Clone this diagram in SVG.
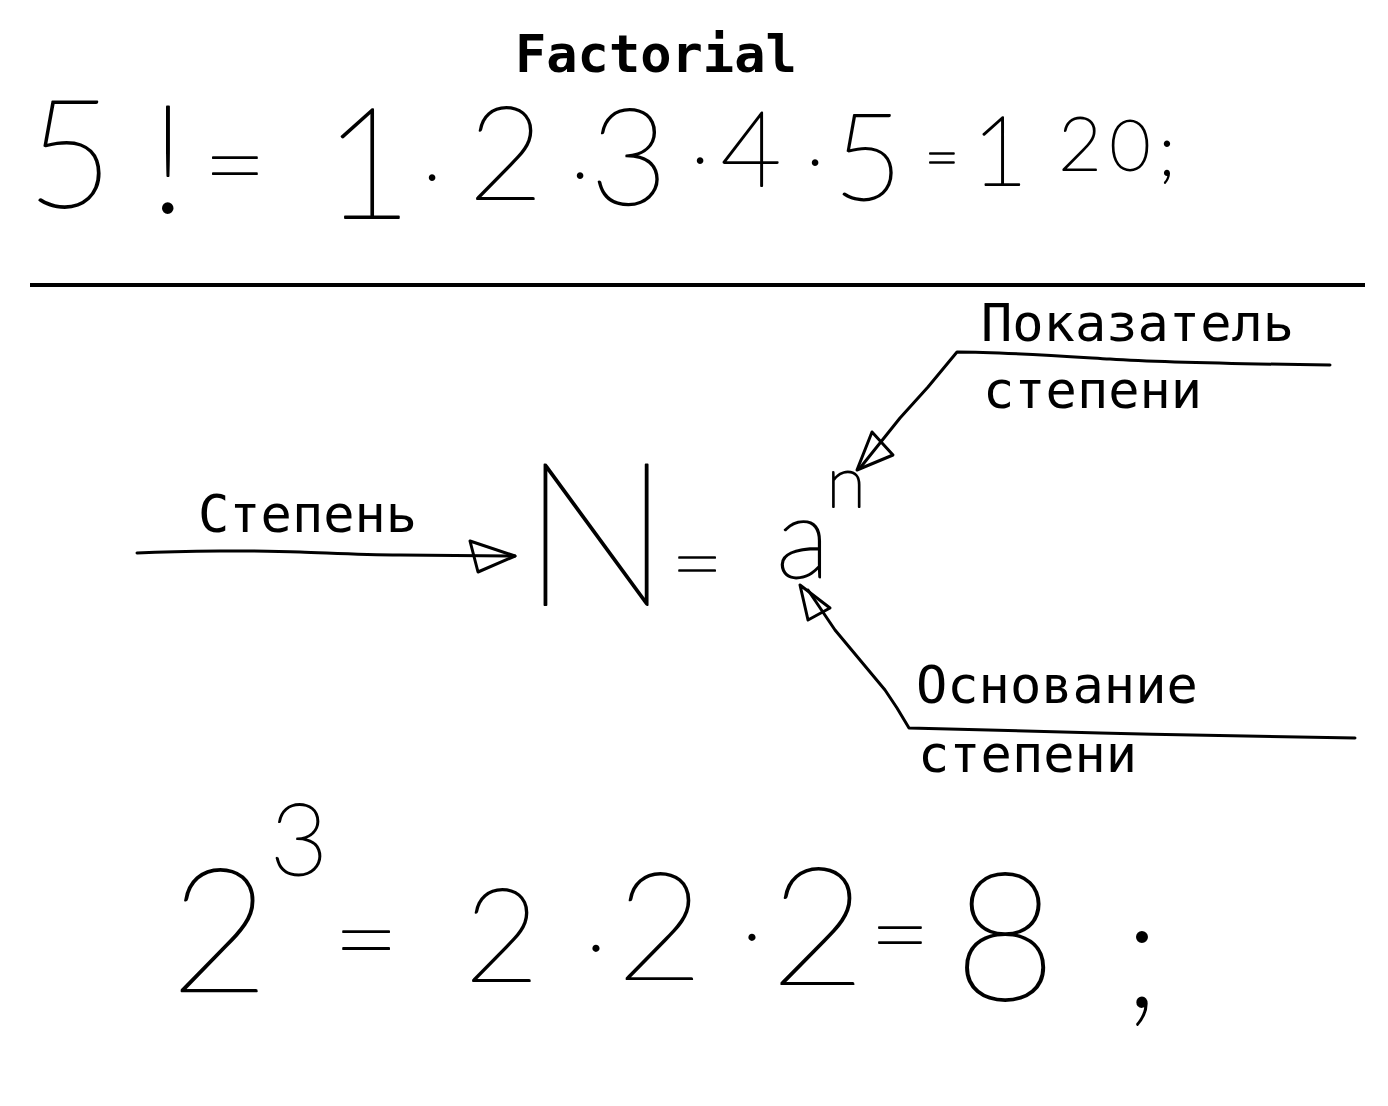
<svg xmlns="http://www.w3.org/2000/svg" width="1388" height="1106" viewBox="0 0 1388 1106">
<style>
.lbl{font-family:"DejaVu Sans Mono","Liberation Mono",monospace;font-size:52px;fill:#000}
.title{font-family:"DejaVu Sans Mono","Liberation Mono",monospace;font-size:52px;font-weight:bold;fill:#000}
.hw{font-family:Lato,"DejaVu Sans",sans-serif;font-weight:100;fill:#000;stroke:#000;stroke-width:1.8;stroke-linejoin:round;text-anchor:middle}
.ln{fill:none;stroke:#000;stroke-width:3;stroke-linecap:round;stroke-linejoin:round}
</style>
<rect width="1388" height="1106" fill="#fff"/>
<g id="title"><text class="title" x="515" y="72">Factorial</text></g>
<g id="factorial-formula">
<text class="hw"><tspan x="70" y="207" font-size="150">5</tspan><tspan x="168" y="212" font-size="150">!</tspan><tspan x="235" y="203" font-size="110">=</tspan><tspan x="368" y="218" font-size="155">1</tspan><tspan x="432" y="201" font-size="80">·</tspan><tspan x="506" y="200" font-size="130">2</tspan><tspan x="580" y="199" font-size="80">·</tspan><tspan x="629" y="205" font-size="135">3</tspan><tspan x="700" y="184" font-size="80">·</tspan><tspan x="751" y="186" font-size="105">4</tspan><tspan x="815" y="186" font-size="80">·</tspan><tspan x="868" y="200" font-size="120">5</tspan><tspan x="942" y="178" font-size="60">=</tspan><tspan x="1000" y="185" font-size="97">1</tspan><tspan x="1080" y="170" font-size="75">2</tspan><tspan x="1130" y="170" font-size="70">0</tspan><tspan x="1167" y="175" font-size="70">;</tspan></text>
</g>
<g id="divider"><line x1="30" y1="285" x2="1365" y2="285" stroke="#000" stroke-width="4"/></g>
<g id="power-formula">
<text class="hw"><tspan x="596" y="605" font-size="200">N</tspan><tspan x="697" y="594" font-size="90">=</tspan><tspan x="803" y="578" font-size="115">a</tspan><tspan x="846" y="507" font-size="73">n</tspan></text>
</g>
<g id="label-exponent"><text class="lbl" x="981" y="341">Показатель</text><text class="lbl" x="983" y="408">степени</text></g>
<g id="label-power"><text class="lbl" x="198" y="532">Степень</text></g>
<g id="label-base"><text class="lbl" x="916" y="703">Основание</text><text class="lbl" x="918" y="772">степени</text></g>
<g id="example-formula">
<text class="hw"><tspan x="220" y="992" font-size="172">2</tspan><tspan x="299" y="875" font-size="100">3</tspan><tspan x="366" y="979" font-size="115">=</tspan><tspan x="502" y="982" font-size="130">2</tspan><tspan x="596" y="975" font-size="90">·</tspan><tspan x="660" y="980" font-size="150">2</tspan><tspan x="752" y="964" font-size="90">·</tspan><tspan x="818" y="985" font-size="165">2</tspan><tspan x="900" y="970" font-size="105">=</tspan><tspan x="1005" y="1000" font-size="178">8</tspan><tspan x="1142" y="1006" font-size="157">;</tspan></text>
</g>
<g id="connectors">
<path class="ln" d="M137,553 C180,551 260,550 300,552 C330,553 360,555 400,555 L515,556"/>
<path class="ln" d="M470,541 L478,572 L515,556 Z"/>
<path class="ln" d="M1330,365 C1250,364 1170,363 1110,359 C1060,356 1000,352 957,352 L928,387 L900,418 L860,468"/>
<path class="ln" d="M872,432 L893,455 L857,470 Z"/>
<path class="ln" d="M1355,738 C1250,736 1180,735 1100,733 C1020,731 960,729 909,728 L897,708 L885,690 L860,660 L835,630 L808,590"/>
<path class="ln" d="M800,585 L830,608 L808,620 Z"/>
</g>
</svg>
